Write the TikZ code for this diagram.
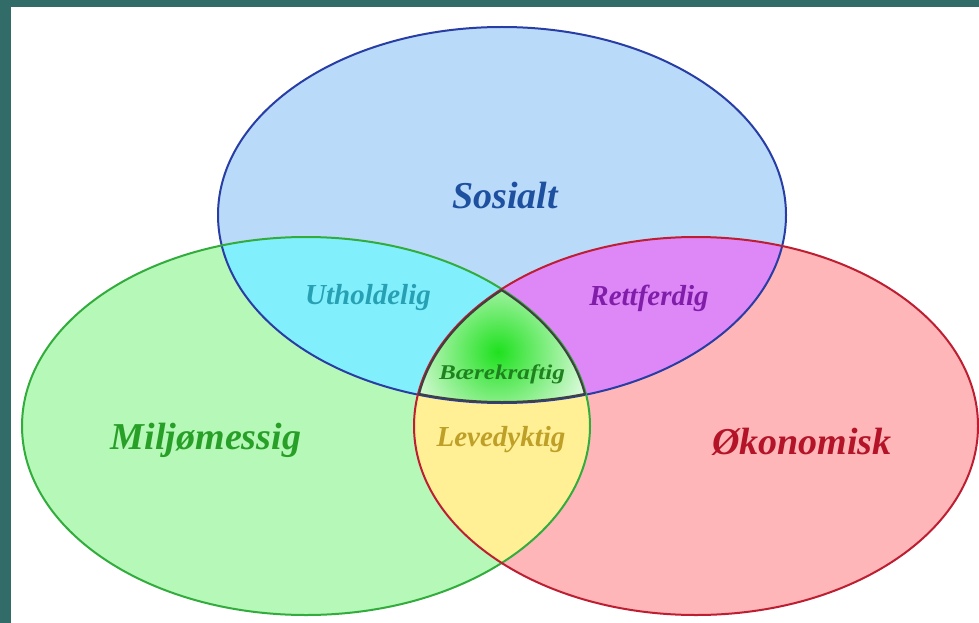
\documentclass[tikz,border=0pt]{standalone}
\usepackage{fontspec}
\setmainfont{Liberation Serif}
\usetikzlibrary{positioning}
\usepackage{xcolor}

\definecolor{framebg}{RGB}{50,108,104}
\definecolor{sosfill}{RGB}{186,218,250}
\definecolor{sosline}{RGB}{40,62,165}
\definecolor{miljofill}{RGB}{182,248,184}
\definecolor{miljoline}{RGB}{50,172,60}
\definecolor{okofill}{RGB}{255,182,184}
\definecolor{okoline}{RGB}{190,30,50}
\definecolor{utfill}{RGB}{130,240,252}
\definecolor{retfill}{RGB}{222,136,248}
\definecolor{levfill}{RGB}{255,240,150}
\definecolor{glow}{RGB}{30,225,30}
\definecolor{sostext}{RGB}{30,80,160}
\definecolor{uttext}{RGB}{40,160,180}
\definecolor{rettext}{RGB}{128,30,170}
\definecolor{miljotext}{RGB}{40,160,40}
\definecolor{okotext}{RGB}{180,20,40}
\definecolor{levtext}{RGB}{190,160,40}
\definecolor{baertext}{RGB}{30,130,30}

\def\sosring{(502,215) ellipse [x radius=284, y radius=188]}
\def\miljoring{(306,426) ellipse [x radius=284, y radius=189]}
\def\okoring{(696,426) ellipse [x radius=282, y radius=189]}

\begin{document}
\begin{tikzpicture}[x=1pt, y=-1pt]
\tikzstyle{bigtext} = [font=\fontsize{38}{41}\selectfont\bfseries\itshape]
\tikzstyle{midtext} = [font=\fontsize{29}{32}\selectfont\bfseries\itshape]
\tikzstyle{ring} = [line width=2]

\useasboundingbox (0,0) rectangle (979,623);
\fill[framebg] (0,0) rectangle (979,623);
\fill[white] (11,7) rectangle (979,623);

% the three circles
\fill[sosfill] \sosring;
\fill[miljofill] \miljoring;
\fill[okofill] \okoring;

% pairwise overlaps
\begin{scope}
  \clip \sosring;
  \fill[utfill] \miljoring;
  \fill[retfill] \okoring;
\end{scope}
\begin{scope}
  \clip \miljoring;
  \fill[levfill] \okoring;
\end{scope}

% middle
\begin{scope}
  \clip \sosring;
  \clip \miljoring;
  \clip \okoring;
  \fill[white] (0,0) rectangle (979,623);
  \shade[inner color=glow, outer color=white] (498,352) circle (110);
\end{scope}

\draw[ring, sosline] \sosring;
\draw[ring, miljoline] \miljoring;
\draw[ring, okoline] \okoring;

\begin{scope}
  \clip \sosring;
  \clip \miljoring;
  \clip \okoring;
  \draw[line width=4, black!75] \sosring \miljoring \okoring;
\end{scope}

\node[bigtext, text=sostext] (sosialt) at (505,196) {Sosialt};
\node[bigtext, text=miljotext] (miljo) at (206,440) {Miljømessig};
\node[bigtext, text=okotext] (oko) at (802,442) {Økonomisk};
\node[midtext, text=uttext] (uthold) at (368,298) {Utholdelig};
\node[midtext, text=rettext] (rett) at (649,298) {Rettferdig};
\node[midtext, text=levtext] (leve) at (501,440) {Levedyktig};
\node[font=\fontsize{21}{24}\selectfont\bfseries\itshape, text=baertext, xscale=1.2] (baer) at (502,374) {Bærekraftig};
\end{tikzpicture}
\end{document}
